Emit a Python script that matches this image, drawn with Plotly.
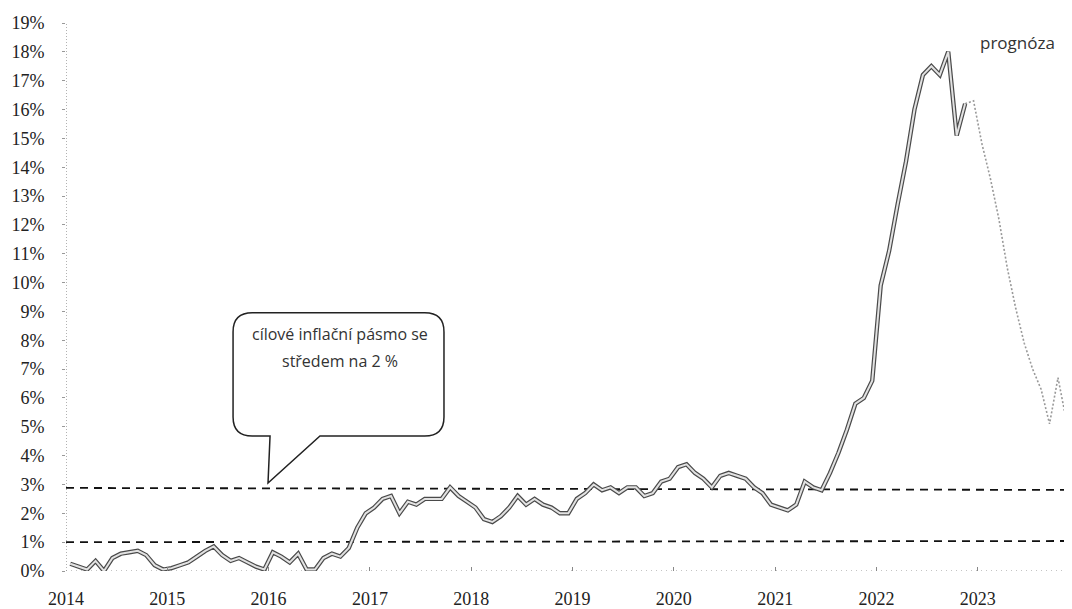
import plotly.graph_objects as go

# ---------------- data ----------------
years = list(range(2014, 2023))
start_year = 2014
actual_by_year = {
    2014: [0.25, 0.15, 0.05, 0.35, 0.0, 0.45, 0.6, 0.65, 0.7, 0.55, 0.2, 0.05],
    2015: [0.1, 0.2, 0.3, 0.5, 0.7, 0.85, 0.55, 0.35, 0.45, 0.3, 0.15, 0.05],
    2016: [0.65, 0.5, 0.3, 0.6, 0.05, 0.05, 0.45, 0.6, 0.5, 0.8, 1.5, 2.0],
    2017: [2.2, 2.5, 2.6, 2.0, 2.4, 2.3, 2.5, 2.5, 2.5, 2.9, 2.6, 2.4],
    2018: [2.2, 1.8, 1.7, 1.9, 2.2, 2.6, 2.3, 2.5, 2.3, 2.2, 2.0, 2.0],
    2019: [2.5, 2.7, 3.0, 2.8, 2.9, 2.7, 2.9, 2.9, 2.6, 2.7, 3.1, 3.2],
    2020: [3.6, 3.7, 3.4, 3.2, 2.9, 3.3, 3.4, 3.3, 3.2, 2.9, 2.7, 2.3],
    2021: [2.2, 2.1, 2.3, 3.1, 2.9, 2.8, 3.4, 4.1, 4.9, 5.8, 6.0, 6.6],
    2022: [9.9, 11.1, 12.7, 14.2, 16.0, 17.2, 17.5, 17.2, 18.0, 15.1, 16.2],
}
# forecast: Nov 2022 .. Dec 2023
forecast_start = (2022, 11)
forecast = [16.2, 16.3, 14.8, 13.6, 12.2, 10.5, 9.1, 7.9, 7.0, 6.3, 5.1, 6.7, 5.2, 4.8]

band_upper = [2.88, 2.81]   # dashed line, left -> right end
band_lower = [1.0, 1.04]

y_ticks = list(range(0, 20))
y_ticktext = [f"{v}%" for v in y_ticks]
x_ticks = list(range(2014, 2024))
x_ticktext = [str(v) for v in x_ticks]

callout_text = ["cílové inflační pásmo se", "středem na 2 %"]
forecast_label = "prognóza"

# ---------------- build series ----------------
actual_y = []
for y in years:
    actual_y += actual_by_year[y]
actual_x = [start_year + (i + 0.5) / 12 for i in range(len(actual_y))]

f0 = (forecast_start[0] - start_year) * 12 + forecast_start[1] - 1
forecast_x = [start_year + (f0 + i + 0.5) / 12 for i in range(len(forecast))]

X_MIN, X_MAX = 2014.0, 2023.93
Y_MIN, Y_MAX = 0, 19

fig = go.Figure()

# dashed tolerance band lines
for band in (band_upper, band_lower):
    fig.add_trace(go.Scatter(x=[X_MIN, X_MAX], y=band, mode="lines",
                             line=dict(color="#111", width=1.8, dash="8px,6px"),
                             hoverinfo="skip"))

# actual inflation: double line look (dark outline + light core)
fig.add_trace(go.Scatter(x=actual_x, y=actual_y, mode="lines",
                         line=dict(color="#4a4a4a", width=4.4),
                         hoverinfo="skip"))
fig.add_trace(go.Scatter(x=actual_x, y=actual_y, mode="lines",
                         line=dict(color="#e2e2e2", width=2.0),
                         hoverinfo="skip"))

# forecast: dotted grey
fig.add_trace(go.Scatter(x=forecast_x, y=forecast, mode="lines",
                         line=dict(color="#999999", width=1.6, dash="2px,2px"),
                         hoverinfo="skip"))

# ---------------- callout bubble ----------------
L, R, T, B = 2015.649, 2017.731, 8.95, 4.68
rx, ry = 0.19, 0.66
tailL, tailR = 2016.014, 2016.507
tip_x, tip_y = 2015.994, 3.05
path = (f"M {L+rx},{T} L {R-rx},{T} Q {R},{T} {R},{T-ry} "
        f"L {R},{B+ry} Q {R},{B} {R-rx},{B} "
        f"L {tailR},{B} L {tip_x},{tip_y} L {tailL},{B} "
        f"L {L+rx},{B} Q {L},{B} {L},{B+ry} "
        f"L {L},{T-ry} Q {L},{T} {L+rx},{T} Z")
shapes = [
    dict(type="path", path=path, xref="x", yref="y",
         line=dict(color="#222", width=1.5), fillcolor="white", layer="above"),
    # dotted y axis
    dict(type="line", xref="x", yref="y", x0=X_MIN, x1=X_MIN, y0=Y_MIN, y1=Y_MAX,
         line=dict(color="#666", width=1, dash="1px,2px"), layer="below"),
    # dotted x axis baseline
    dict(type="line", xref="x", yref="y", x0=X_MIN, x1=X_MAX, y0=0, y1=0,
         line=dict(color="#888", width=1, dash="1px,4px"), layer="below"),
]

annotations = [
    dict(x=2016.70, y=8.22, xref="x", yref="y", text=callout_text[0], showarrow=False,
         font=dict(family="Open Sans", size=16, color="#333")),
    dict(x=2016.70, y=7.27, xref="x", yref="y", text=callout_text[1], showarrow=False,
         font=dict(family="Open Sans", size=16, color="#333")),
    dict(x=2023.39, y=18.34, xref="x", yref="y", text=forecast_label, showarrow=False,
         font=dict(family="Open Sans", size=17, color="#333")),
]

# the page has an 8px body margin, so the figure is 8px smaller each way
fig.update_layout(
    width=1064, height=601,
    margin=dict(l=58, r=0, t=15, b=38, pad=0),
    paper_bgcolor="white", plot_bgcolor="white",
    showlegend=False,
    shapes=shapes,
    annotations=annotations,
    xaxis=dict(range=[X_MIN, X_MAX], tickvals=x_ticks, ticktext=x_ticktext,
               showgrid=False, zeroline=False, showline=False,
               ticks="inside", ticklen=4, tickcolor="#888",
               ticklabelstandoff=15,
               tickfont=dict(family="Liberation Serif", size=18, color="#222")),
    yaxis=dict(range=[Y_MIN, Y_MAX], tickvals=y_ticks, ticktext=y_ticktext,
               showgrid=False, zeroline=False, showline=False,
               ticks="outside", ticklen=3, tickcolor="#999",
               ticklabelstandoff=14,
               tickfont=dict(family="Liberation Serif", size=18, color="#222")),
)

fig.write_html("out.html")
